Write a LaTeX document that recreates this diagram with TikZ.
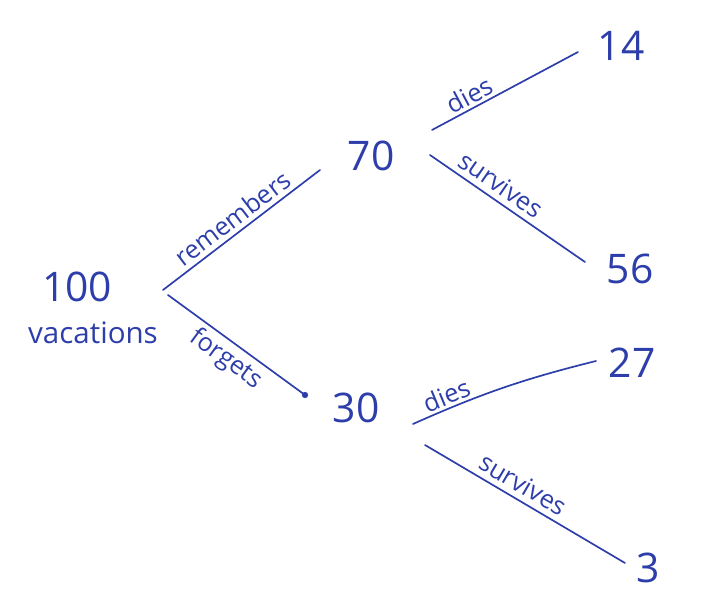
\documentclass[tikz,border=0pt]{standalone}
\usepackage{fontspec}
\setmainfont{Open Sans}
\usepackage{tikz}
\definecolor{ink}{RGB}{45,62,170}
\newcommand*{\xMax}{706}
\newcommand*{\yMax}{602}

\begin{document}
\begin{tikzpicture}[x=0.025cm,y=-0.025cm,
    num/.style={ink,inner sep=0pt,font=\fontsize{29}{31}\selectfont},
    lbl/.style={ink,inner sep=1pt,font=\fontsize{18}{20}\selectfont},
    branch/.style={ink,line width=1.2pt,line cap=round}]
    \useasboundingbox (0,0) rectangle (\xMax,\yMax);

    % counts
    \node [num] (n100) at (77,287) {100};
    \node [num,font=\fontsize{21}{23}\selectfont] (nVac) at (93,333) {vacations};
    \node [num] (n70) at (371,156) {70};
    \node [num] (n30) at (356,408) {30};
    \node [num] (n14) at (621,46) {14};
    \node [num] (n56) at (630,269) {56};
    \node [num] (n27) at (632,363) {27};
    \node [num] (n3) at (648,568) {3};

    % first split
    \draw [branch] ([shift={(86,3)}]n100.center) -- node [lbl,sloped,above=2pt] (lRem) {remembers} ([shift={(-51,14)}]n70.center);
    \draw [branch] ([shift={(91,8)}]n100.center) -- node [lbl,sloped,below=2pt] (lFor) {forgets} ([shift={(-51,-13)}]n30.center);
    \filldraw [ink] ([shift={(-51,-13)}]n30.center) circle (2pt);

    % second split
    \draw [branch] ([shift={(61,-26)}]n70.center) -- node [lbl,sloped,above=1pt,pos=0.3] (lDieA) {dies} ([shift={(-43,6)}]n14.center);
    \draw [branch] ([shift={(59,-1)}]n70.center) -- node [lbl,sloped,above=3pt,pos=0.4] (lSurA) {survives} ([shift={(-45,-7)}]n56.center);
    \draw [branch] ([shift={(57,16)}]n30.center) to [bend left=5] node [lbl,sloped,above=1pt,pos=0.2] (lDieB) {dies} ([shift={(-36,-2)}]n27.center);
    \draw [branch] ([shift={(69,37)}]n30.center) -- node [lbl,sloped,above=3pt,pos=0.45] (lSurB) {survives} ([shift={(-23,-5)}]n3.center);
\end{tikzpicture}
\end{document}
